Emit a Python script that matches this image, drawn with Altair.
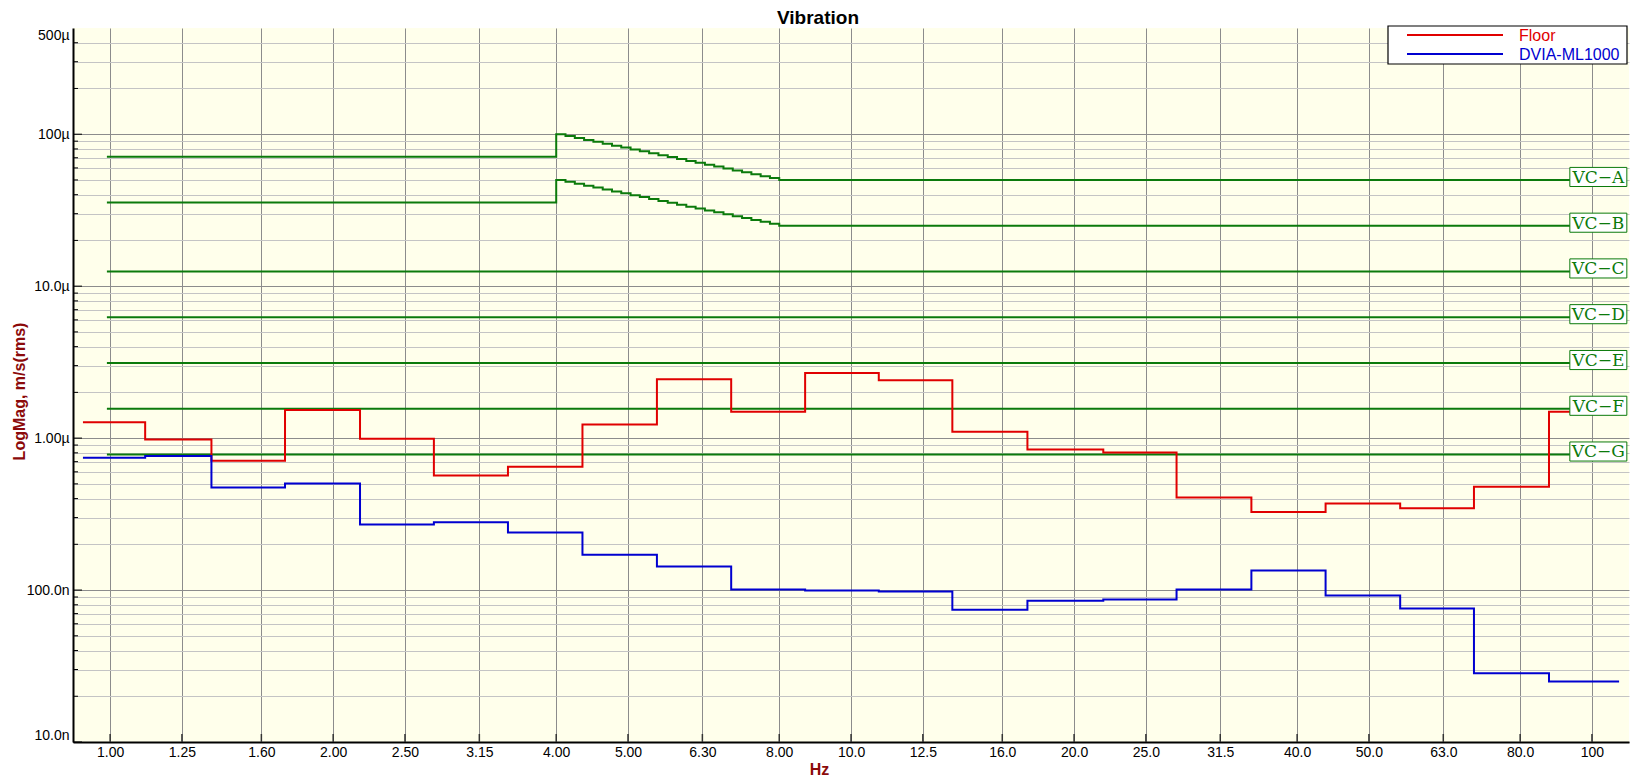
import altair as alt
import pandas as pd

W, H = 1556, 714

# ---- data -------------------------------------------------------------
band_centres_hz = [1.00, 1.25, 1.60, 2.00, 2.50, 3.15, 4.00, 5.00, 6.30, 8.00,
                   10.0, 12.5, 16.0, 20.0, 25.0, 31.5, 40.0, 50.0, 63.0, 80.0, 100.0]
band_edges_hz = [0.919, 1.115, 1.370, 1.722, 2.174, 2.735, 3.443, 4.34, 5.47, 6.89, 8.67,
                 10.9, 13.7, 17.3, 21.9, 27.5, 34.7, 43.7, 55.1, 69.3, 87.5, 108.8]
series_names = ["Floor", "DVIA-ML1000"]
series_colors = ["#e00000", "#0000d0"]
floor_um = [1.27, 0.98, 0.71, 1.53, 0.99, 0.568, 0.648, 1.23, 2.44, 1.49, 2.68,
            2.40, 1.10, 0.84, 0.805, 0.407, 0.326, 0.371, 0.345, 0.479, 1.49]
dvia_um = [0.742, 0.762, 0.473, 0.503, 0.270, 0.279, 0.239, 0.171, 0.143, 0.101, 0.0994,
           0.098, 0.0742, 0.0851, 0.0868, 0.101, 0.1346, 0.0921, 0.0757, 0.0283, 0.0250]

vc_names = ["VC\u2212A", "VC\u2212B", "VC\u2212C", "VC\u2212D", "VC\u2212E", "VC\u2212F", "VC\u2212G"]
vc_level_um = [50, 25, 12.5, 6.25, 3.12, 1.56, 0.78]
vc_low_um = [71, 35.5, 12.5, 6.25, 3.12, 1.56, 0.78]
vc_start_hz = 0.99
vc_end_hz = 102
vc_label_hz = 102
vc_slope_hz = [4.000, 4.117, 4.238, 4.362, 4.490, 4.622, 4.757, 4.896, 5.040, 5.187,
               5.339, 5.496, 5.657, 5.823, 5.993, 6.169, 6.350, 6.536, 6.727, 6.924,
               7.127, 7.336, 7.551, 7.772, 8.000]
vca_slope_um = [100, 97.15, 94.39, 91.70, 89.09, 86.55, 84.09, 81.69, 79.37, 77.11,
                74.92, 72.79, 70.71, 68.70, 66.74, 64.84, 63.00, 61.20, 59.46, 57.77,
                56.12, 54.53, 52.97, 51.46, 50.0]
vcb_slope_um = [50, 48.57, 47.19, 45.85, 44.54, 43.28, 42.04, 40.85, 39.69, 38.56,
                37.46, 36.39, 35.36, 34.35, 33.37, 32.42, 31.50, 30.60, 29.73, 28.88,
                28.06, 27.26, 26.49, 25.73, 25.0]

y_major_um = [0.01, 0.1, 1, 10, 100]
y_minor_um = [0.02, 0.03, 0.04, 0.05, 0.06, 0.07, 0.08, 0.09,
              0.2, 0.3, 0.4, 0.5, 0.6, 0.7, 0.8, 0.9,
              2, 3, 4, 5, 6, 7, 8, 9,
              20, 30, 40, 50, 60, 70, 80, 90,
              200, 300, 400]
y_label_um = [0.01, 0.1, 1, 10, 100, 500]
y_label_text = ["10.0n", "100.0n", "1.00\u00b5", "10.0\u00b5", "100\u00b5", "500\u00b5"]
x_domain_hz = [0.891, 112.2]
y_domain_um = [0.01, 500]

# ---- tables -----------------------------------------------------------
rows = []
for name, vals in zip(series_names, [floor_um, dvia_um]):
    for f, v in zip(band_edges_hz, vals):
        rows.append({"freq": f, "value": v, "series": name})
    rows.append({"freq": band_edges_hz[-1], "value": vals[-1], "series": name})
spec_df = pd.DataFrame(rows)

vrows = []
for i, (name, lvl, low) in enumerate(zip(vc_names, vc_level_um, vc_low_um)):
    vrows.append({"freq": vc_start_hz, "value": low, "name": name})
    if i == 0:
        for f, v in zip(vc_slope_hz, vca_slope_um):
            vrows.append({"freq": f, "value": v, "name": name})
    elif i == 1:
        for f, v in zip(vc_slope_hz, vcb_slope_um):
            vrows.append({"freq": f, "value": v, "name": name})
    vrows.append({"freq": vc_end_hz, "value": lvl, "name": name})
vc_df = pd.DataFrame(vrows)
lab_df = pd.DataFrame({"freq": [vc_label_hz] * len(vc_names), "value": vc_level_um, "name": vc_names})

# ---- axes -------------------------------------------------------------
FONT = "Liberation Sans"
TITLE_COLOR = "#8b0a0a"
GREEN = "#0b7a0b"

label_expr = "''"
for v, t in zip(y_label_um, y_label_text):
    label_expr = f"abs(datum.value - {v}) < {v * 0.001} ? '{t}' : (" + label_expr + ")"

major_test = "abs(log(datum.value)/LN10 - round(log(datum.value)/LN10)) < 0.001"


def X():
    return alt.X("freq:Q",
                 scale=alt.Scale(type="log", domain=x_domain_hz, nice=False),
                 axis=alt.Axis(values=band_centres_hz, format=".3r", title="Hz",
                               titleX=746, titlePadding=2,
                               labelOverlap=False, labelPadding=3, labelFlush=False,
                               grid=True, gridColor="#8c8c8c", gridWidth=1))


def Y():
    return alt.Y("value:Q",
                 scale=alt.Scale(type="log", domain=y_domain_um, nice=False),
                 axis=alt.Axis(values=sorted(y_major_um + y_minor_um + [500]),
                               labelExpr=label_expr, title="LogMag, m/s(rms)",
                               titleY=363, titleX=-46,
                               labelOverlap=False, labelPadding=4, labelFlush=True,
                               grid=True,
                               gridColor={"condition": {"test": major_test, "value": "#8c8c8c"},
                                          "value": "#c4c4c4"},
                               gridOpacity={"condition": {"test": "datum.value > 450", "value": 0},
                                            "value": 1}))


# ---- layers -----------------------------------------------------------
ytick_major = alt.Chart(pd.DataFrame({"value": y_major_um})).mark_rule(
    color="black", strokeWidth=1).encode(y=Y(), x=alt.value(0), x2=alt.value(9))
ytick_minor = alt.Chart(pd.DataFrame({"value": y_minor_um})).mark_rule(
    color="black", strokeWidth=1).encode(y=Y(), x=alt.value(0), x2=alt.value(5))
xtick = alt.Chart(pd.DataFrame({"freq": band_centres_hz})).mark_rule(
    color="#333333", strokeWidth=1.5).encode(x=X(), y=alt.value(H), y2=alt.value(H - 8))

vc_lines = alt.Chart(vc_df).mark_line(interpolate="step-after", color=GREEN,
                                      strokeWidth=2, clip=True).encode(
    x=X(), y=Y(), detail="name:N")

spectra = alt.Chart(spec_df).mark_line(interpolate="step-after", strokeWidth=2, clip=True).encode(
    x=X(), y=Y(),
    color=alt.Color("series:N", scale=alt.Scale(domain=series_names, range=series_colors),
                    legend=None),
    detail="series:N")

boxes = alt.Chart(lab_df).mark_point(shape="M-1,-0.44H1V0.23H-1Z", size=3249, filled=True,
                                     fill="white", stroke=GREEN, strokeWidth=1,
                                     opacity=1, fillOpacity=1).encode(x=X(), y=Y())
texts = alt.Chart(lab_df).mark_text(font="DejaVu Serif", fontSize=17, color=GREEN,
                                    align="center", baseline="alphabetic", dy=3).encode(
    x=X(), y=Y(), text="name:N")

# ---- legend (drawn as a boxed key in the top-right corner) ---------------
LEG_X0, LEG_X1, LEG_Y0, LEG_Y1 = 1315, 1554, -2, 36
leg_row_y = [7, 26]
leg_box = alt.Chart(pd.DataFrame({"k": [0]})).mark_rect(
    fill="white", stroke="black", strokeWidth=1.2).encode(
    x=alt.value(LEG_X0), x2=alt.value(LEG_X1), y=alt.value(LEG_Y0), y2=alt.value(LEG_Y1))
leg_layers = [leg_box]
for name, col, ry in zip(series_names, series_colors, leg_row_y):
    d = pd.DataFrame({"series": [name]})
    leg_layers.append(alt.Chart(d).mark_rule(color=col, strokeWidth=2).encode(
        x=alt.value(LEG_X0 + 19), x2=alt.value(LEG_X0 + 115), y=alt.value(ry)))
    leg_layers.append(alt.Chart(d).mark_text(color=col, font=FONT, fontSize=16,
                                             align="left", baseline="middle").encode(
        x=alt.value(LEG_X0 + 131), y=alt.value(ry + 1), text="series:N"))

chart = alt.layer(ytick_minor, ytick_major, xtick, vc_lines, spectra, boxes, texts,
                  *leg_layers).properties(
    width=W, height=H,
    title=alt.TitleParams("Vibration", font=FONT, fontSize=19, fontWeight="bold",
                          color="black", anchor="middle", dx=-33, dy=11, offset=8),
    autosize=alt.AutoSizeParams(type="none"),
    padding={"left": 65, "top": 20, "right": 1, "bottom": 34},
).configure_view(fill="#ffffeb", stroke=None).configure_axis(
    labelFont=FONT, labelFontSize=14, labelColor="black",
    titleFont=FONT, titleFontSize=16, titleFontWeight="bold", titleColor=TITLE_COLOR,
    ticks=False, tickSize=0, domainColor="black", domainWidth=2,
)

chart.save("out.html", embed_options={"renderer": "svg", "actions": False})
